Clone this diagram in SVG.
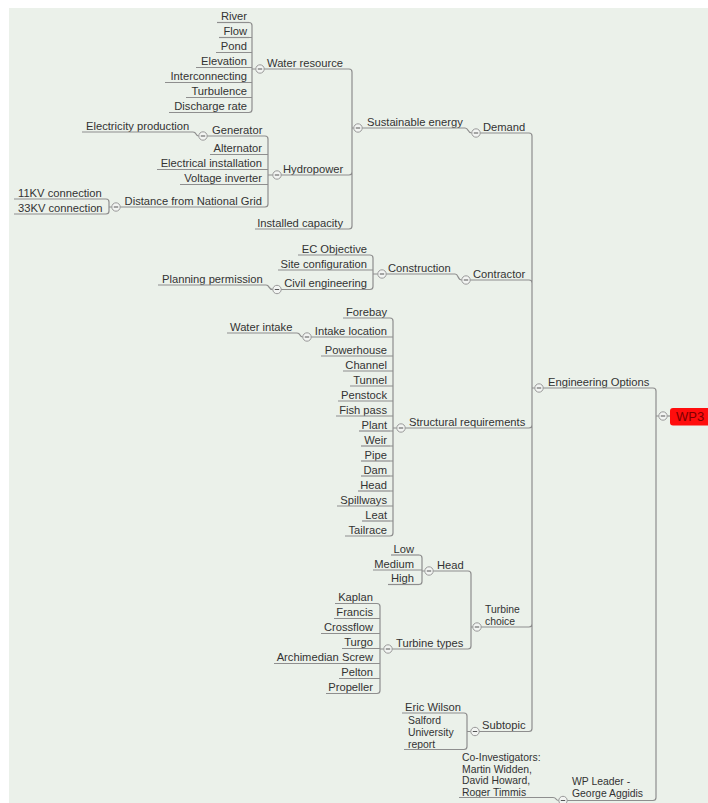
<svg xmlns="http://www.w3.org/2000/svg" xmlns:xlink="http://www.w3.org/1999/xlink" width="708" height="803" viewBox="0 0 708 803">
<style>
text{font-family:"Liberation Sans",Arial,sans-serif;font-size:11.2px;fill:#333}
text.m{font-size:10.4px}
.e{text-anchor:end}
.u,.c{fill:none;stroke:#8e8e8e;stroke-width:1.2}
.b circle{fill:#f2f4f2;stroke:#999;stroke-width:1}
.b line{stroke:#555;stroke-width:1}
</style>
<defs>
<g id="btn" class="b"><circle r="4.2"/><line x1="-2.2" y1="0" x2="2.2" y2="0"/></g>
</defs>
<rect x="0" y="0" width="708" height="803" fill="#ffffff"/>
<rect x="9" y="8" width="699" height="795" fill="#ebf1ea"/>

<g id="connectors">
<path class="c" d="M658.8,416 L656,416 M653,388 Q656,388 656,391 L656,416 M653,800.5 Q656,800.5 656,797.5 L656,416"/>
<path class="c" d="M534.8,388 L532,388 M529,133 Q532,133 532,136 L532,388 M529,280 Q532,280 532,283 M529,428 Q532,428 532,425 L532,388 M529,627 Q532,627 532,624 M529,731.5 Q532,731.5 532,728.5 L532,388"/>
<path class="c" d="M465,128 C469,128 467,133 471.8,133"/>
<path class="c" d="M353.8,128 L352,128 M349,69 Q352,69 352,72 L352,128 M349,175 Q352,175 352,172 M349,229 Q352,229 352,226 L352,128"/>
<path class="c" d="M255.8,69 L252,69 M249,22.5 Q252,22.5 252,25.5 L252,69 M249,37.5 L252,37.5 M249,52.5 L252,52.5 M249,67.5 L252,67.5 M249,82.5 L252,82.5 M249,97.5 L252,97.5 M249,112.5 Q252,112.5 252,109.5 L252,69"/>
<path class="c" d="M272.8,175 L268,175 M265,136 Q268,136 268,139 L268,175 M265,154.5 L268,154.5 M265,169.5 L268,169.5 M265,184.5 L268,184.5 M265,207 Q268,207 268,204 L268,175"/>
<path class="c" d="M193,132 C197,132 195,136 198.8,136"/>
<path class="c" d="M111.8,207 L109,207 M106,199 Q109,199 109,202 L109,207 M106,214 Q109,214 109,211 L109,207"/>
<path class="c" d="M455,274 C459,274 457,280 461.8,280"/>
<path class="c" d="M377.8,274 L373,274 M370,255 Q373,255 373,258 L373,274 M370,270 L373,270 M370,289.5 Q373,289.5 373,286.5 L373,274"/>
<path class="c" d="M266,285 C270,285 268,289.5 272.8,289.5"/>
<path class="c" d="M396.8,428 L393,428 M390,318 Q393,318 393,321 L393,428 M390,337 L393,337 M390,356 L393,356 M390,371 L393,371 M390,386 L393,386 M390,401 L393,401 M390,416 L393,416 M390,431 L393,431 M390,446 L393,446 M390,461 L393,461 M390,476 L393,476 M390,491 L393,491 M390,506 L393,506 M390,521 L393,521 M390,536 Q393,536 393,533 L393,428"/>
<path class="c" d="M297,333 C301,333 299,337 302.8,337"/>
<path class="c" d="M472.8,627 L471,627 M468,571 Q471,571 471,574 L471,627 M468,649 Q471,649 471,646 L471,627"/>
<path class="c" d="M424.8,571 L422,571 M419,555 Q422,555 422,558 L422,571 M419,570 L422,570 M419,584.5 Q422,584.5 422,581.5 L422,571"/>
<path class="c" d="M383.8,649 L380,649 M377,603.5 Q380,603.5 380,606.5 L380,649 M377,618.5 L380,618.5 M377,633.5 L380,633.5 M377,648.5 L380,648.5 M377,663.5 L380,663.5 M377,678.5 L380,678.5 M377,693.5 Q380,693.5 380,690.5 L380,649"/>
<path class="c" d="M470.8,731.5 L467,731.5 M464,713 Q467,713 467,716 L467,731.5 M464,749.5 Q467,749.5 467,746.5 L467,731.5"/>
<path class="c" d="M553,797.5 C557,797.5 555,800.5 558.8,800.5"/>
</g>

<g id="wp3">
<line class="u" x1="667.2" y1="416" x2="670" y2="416"/>
<rect x="670" y="408" width="44" height="17.5" rx="3" fill="#ff0d0d"/>
<text x="676" y="420.8" style="font-size:13px;fill:#7d0000">WP3</text>
<use xlink:href="#btn" x="663" y="416"/>
</g>

<g id="engineering-options"><use xlink:href="#btn" x="539" y="388"/><text x="548" y="385.5">Engineering Options</text><line class="u" x1="543.2" y1="388" x2="653" y2="388"/></g>
<g id="wp-leader"><use xlink:href="#btn" x="563" y="800.5"/><text class="m" x="572" y="785.2">WP Leader -<tspan x="572" dy="11.6">George Aggidis</tspan></text><line class="u" x1="567.2" y1="800.5" x2="653" y2="800.5"/></g>
<g id="co-investigators"><text class="m" x="462" y="761">Co-Investigators:<tspan x="462" dy="11.6">Martin Widden,</tspan><tspan x="462" dy="11.6">David Howard,</tspan><tspan x="462" dy="11.6">Roger Timmis</tspan></text><line class="u" x1="459" y1="797.5" x2="553" y2="797.5"/></g>

<g id="demand"><use xlink:href="#btn" x="476" y="133"/><text x="483" y="130.5">Demand</text><line class="u" x1="480.2" y1="133" x2="529" y2="133"/></g>
<g id="sustainable-energy"><use xlink:href="#btn" x="358" y="128"/><text x="367" y="125.5">Sustainable energy</text><line class="u" x1="362.2" y1="128" x2="465" y2="128"/></g>
<g id="water-resource"><use xlink:href="#btn" x="260" y="69"/><text x="267" y="66.5">Water resource</text><line class="u" x1="264.2" y1="69" x2="349" y2="69"/></g>
<g id="hydropower"><use xlink:href="#btn" x="277" y="175"/><text x="283" y="172.5">Hydropower</text><line class="u" x1="281.2" y1="175" x2="349" y2="175"/></g>
<g id="installed-capacity"><text class="e" x="343" y="226.5">Installed capacity</text><line class="u" x1="255" y1="229" x2="349" y2="229"/></g>

<g id="river"><text class="e" x="247" y="20">River</text><line class="u" x1="217" y1="22.5" x2="249" y2="22.5"/></g>
<g id="flow"><text class="e" x="247" y="35">Flow</text><line class="u" x1="219" y1="37.5" x2="249" y2="37.5"/></g>
<g id="pond"><text class="e" x="247" y="50">Pond</text><line class="u" x1="216" y1="52.5" x2="249" y2="52.5"/></g>
<g id="elevation"><text class="e" x="247" y="65">Elevation</text><line class="u" x1="196" y1="67.5" x2="249" y2="67.5"/></g>
<g id="interconnecting"><text class="e" x="247" y="80">Interconnecting</text><line class="u" x1="165" y1="82.5" x2="249" y2="82.5"/></g>
<g id="turbulence"><text class="e" x="247" y="95">Turbulence</text><line class="u" x1="186" y1="97.5" x2="249" y2="97.5"/></g>
<g id="discharge-rate"><text class="e" x="247" y="110">Discharge rate</text><line class="u" x1="169" y1="112.5" x2="249" y2="112.5"/></g>

<g id="generator"><use xlink:href="#btn" x="203" y="136"/><text x="212" y="133.5">Generator</text><line class="u" x1="207.2" y1="136" x2="265" y2="136"/></g>
<g id="electricity-production"><text x="86" y="129.5">Electricity production</text><line class="u" x1="82" y1="132" x2="193" y2="132"/></g>
<g id="alternator"><text class="e" x="262" y="152">Alternator</text><line class="u" x1="210" y1="154.5" x2="265" y2="154.5"/></g>
<g id="electrical-installation"><text class="e" x="262" y="167">Electrical installation</text><line class="u" x1="157" y1="169.5" x2="265" y2="169.5"/></g>
<g id="voltage-inverter"><text class="e" x="262" y="182">Voltage inverter</text><line class="u" x1="180" y1="184.5" x2="265" y2="184.5"/></g>
<g id="distance-grid"><use xlink:href="#btn" x="116" y="207"/><text class="e" x="262" y="204.5">Distance from National Grid</text><line class="u" x1="120.2" y1="207" x2="265" y2="207"/></g>
<g id="kv11"><text x="18" y="196.5">11KV connection</text><line class="u" x1="14" y1="199" x2="106" y2="199"/></g>
<g id="kv33"><text x="18" y="211.5">33KV connection</text><line class="u" x1="14" y1="214" x2="106" y2="214"/></g>

<g id="contractor"><use xlink:href="#btn" x="466" y="280"/><text x="473" y="277.5">Contractor</text><line class="u" x1="470.2" y1="280" x2="529" y2="280"/></g>
<g id="construction"><use xlink:href="#btn" x="382" y="274"/><text x="388" y="271.5">Construction</text><line class="u" x1="386.2" y1="274" x2="455" y2="274"/></g>
<g id="ec-objective"><text class="e" x="367" y="252.5">EC Objective</text><line class="u" x1="298" y1="255" x2="370" y2="255"/></g>
<g id="site-configuration"><text class="e" x="367" y="267.5">Site configuration</text><line class="u" x1="278" y1="270" x2="370" y2="270"/></g>
<g id="civil-engineering"><use xlink:href="#btn" x="277" y="289.5"/><text class="e" x="367" y="287">Civil engineering</text><line class="u" x1="281.2" y1="289.5" x2="370" y2="289.5"/></g>
<g id="planning-permission"><text x="162" y="282.5">Planning permission</text><line class="u" x1="158" y1="285" x2="266" y2="285"/></g>

<g id="structural-requirements"><use xlink:href="#btn" x="401" y="428"/><text x="409" y="425.5">Structural requirements</text><line class="u" x1="405.2" y1="428" x2="529" y2="428"/></g>
<g id="forebay"><text class="e" x="387" y="315.5">Forebay</text><line class="u" x1="343" y1="318" x2="390" y2="318"/></g>
<g id="intake-location"><use xlink:href="#btn" x="307" y="337"/><text class="e" x="387" y="334.5">Intake location</text><line class="u" x1="311.2" y1="337" x2="390" y2="337"/></g>
<g id="water-intake"><text x="230" y="330.5">Water intake</text><line class="u" x1="227" y1="333" x2="297" y2="333"/></g>
<g id="powerhouse"><text class="e" x="387" y="353.5">Powerhouse</text><line class="u" x1="321" y1="356" x2="390" y2="356"/></g>
<g id="channel"><text class="e" x="387" y="368.5">Channel</text><line class="u" x1="343" y1="371" x2="390" y2="371"/></g>
<g id="tunnel"><text class="e" x="387" y="383.5">Tunnel</text><line class="u" x1="350" y1="386" x2="390" y2="386"/></g>
<g id="penstock"><text class="e" x="387" y="398.5">Penstock</text><line class="u" x1="338" y1="401" x2="390" y2="401"/></g>
<g id="fish-pass"><text class="e" x="387" y="413.5">Fish pass</text><line class="u" x1="336" y1="416" x2="390" y2="416"/></g>
<g id="plant"><text class="e" x="387" y="428.5">Plant</text><line class="u" x1="359" y1="431" x2="390" y2="431"/></g>
<g id="weir"><text class="e" x="387" y="443.5">Weir</text><line class="u" x1="361" y1="446" x2="390" y2="446"/></g>
<g id="pipe"><text class="e" x="387" y="458.5">Pipe</text><line class="u" x1="361" y1="461" x2="390" y2="461"/></g>
<g id="dam"><text class="e" x="387" y="473.5">Dam</text><line class="u" x1="361" y1="476" x2="390" y2="476"/></g>
<g id="head-s"><text class="e" x="387" y="488.5">Head</text><line class="u" x1="358" y1="491" x2="390" y2="491"/></g>
<g id="spillways"><text class="e" x="387" y="503.5">Spillways</text><line class="u" x1="337" y1="506" x2="390" y2="506"/></g>
<g id="leat"><text class="e" x="387" y="518.5">Leat</text><line class="u" x1="362" y1="521" x2="390" y2="521"/></g>
<g id="tailrace"><text class="e" x="387" y="533.5">Tailrace</text><line class="u" x1="345" y1="536" x2="390" y2="536"/></g>

<g id="turbine-choice"><use xlink:href="#btn" x="477" y="627"/><text class="m" x="485" y="613">Turbine<tspan x="485" dy="11.6">choice</tspan></text><line class="u" x1="481.2" y1="627" x2="529" y2="627"/></g>
<g id="head-t"><use xlink:href="#btn" x="429" y="571"/><text x="437" y="568.5">Head</text><line class="u" x1="433.2" y1="571" x2="468" y2="571"/></g>
<g id="low"><text class="e" x="414" y="552.5">Low</text><line class="u" x1="391" y1="555" x2="419" y2="555"/></g>
<g id="medium"><text class="e" x="414" y="567.5">Medium</text><line class="u" x1="373" y1="570" x2="419" y2="570"/></g>
<g id="high"><text class="e" x="414" y="582">High</text><line class="u" x1="388" y1="584.5" x2="419" y2="584.5"/></g>
<g id="turbine-types"><use xlink:href="#btn" x="388" y="649"/><text x="396" y="646.5">Turbine types</text><line class="u" x1="392.2" y1="649" x2="468" y2="649"/></g>
<g id="kaplan"><text class="e" x="373" y="601">Kaplan</text><line class="u" x1="335" y1="603.5" x2="377" y2="603.5"/></g>
<g id="francis"><text class="e" x="373" y="616">Francis</text><line class="u" x1="334" y1="618.5" x2="377" y2="618.5"/></g>
<g id="crossflow"><text class="e" x="373" y="631">Crossflow</text><line class="u" x1="321" y1="633.5" x2="377" y2="633.5"/></g>
<g id="turgo"><text class="e" x="373" y="646">Turgo</text><line class="u" x1="342" y1="648.5" x2="377" y2="648.5"/></g>
<g id="archimedian-screw"><text class="e" x="373" y="661">Archimedian Screw</text><line class="u" x1="274" y1="663.5" x2="377" y2="663.5"/></g>
<g id="pelton"><text class="e" x="373" y="676">Pelton</text><line class="u" x1="339" y1="678.5" x2="377" y2="678.5"/></g>
<g id="propeller"><text class="e" x="373" y="691">Propeller</text><line class="u" x1="326" y1="693.5" x2="377" y2="693.5"/></g>

<g id="subtopic"><use xlink:href="#btn" x="475" y="731.5"/><text x="482" y="729">Subtopic</text><line class="u" x1="479.2" y1="731.5" x2="529" y2="731.5"/></g>
<g id="eric-wilson"><text x="405" y="710.5">Eric Wilson</text><line class="u" x1="402" y1="713" x2="464" y2="713"/></g>
<g id="salford"><text class="m" x="408" y="724.3">Salford<tspan x="408" dy="11.6">University</tspan><tspan x="408" dy="11.6">report</tspan></text><line class="u" x1="404" y1="749.5" x2="464" y2="749.5"/></g>
</svg>
